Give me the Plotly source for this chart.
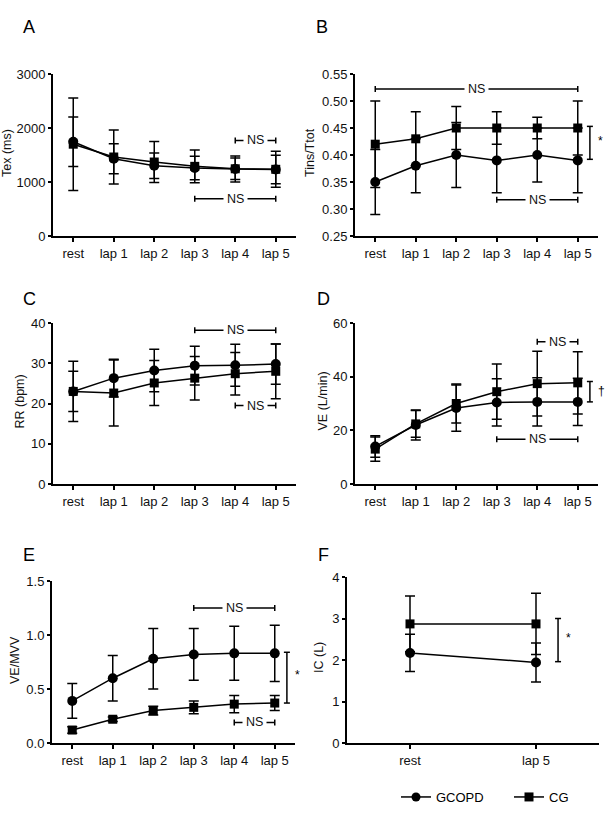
import plotly.graph_objects as go

W, H = 611, 818

# ---------------- data ----------------
categories = ["rest", "lap 1", "lap 2", "lap 3", "lap 4", "lap 5"]
f_categories = ["rest", "lap 5"]

# A: Tex (ms)
tex_gcopd = [1745, 1430, 1300, 1260, 1240, 1232]
tex_gcopd_sd = [460, 279, 236, 218, 240, 264]
tex_cg = [1700, 1463, 1370, 1290, 1245, 1235]
tex_cg_sd = [857, 500, 379, 304, 200, 334]

# B: Tins/Ttot
ti_gcopd = [0.35, 0.38, 0.40, 0.39, 0.40, 0.39]
ti_gcopd_sd = [0.06, 0.05, 0.06, 0.06, 0.05, 0.06]
ti_cg = [0.42, 0.43, 0.45, 0.45, 0.45, 0.45]
ti_cg_sd = [0.08, 0.05, 0.04, 0.03, 0.02, 0.05]

# C: RR (bpm)
rr_gcopd = [23.0, 26.3, 28.2, 29.4, 29.5, 29.8]
rr_gcopd_sd = [5.0, 4.7, 5.3, 4.8, 5.2, 5.0]
rr_cg = [23.0, 22.6, 25.1, 26.3, 27.4, 28.0]
rr_cg_sd = [7.5, 8.2, 5.6, 5.4, 5.3, 6.8]

# D: VE (L/min)
ve_gcopd = [14.0, 22.0, 28.3, 30.4, 30.6, 30.6]
ve_gcopd_sd = [4.0, 5.6, 8.6, 8.8, 9.0, 8.8]
ve_cg = [13.0, 22.4, 30.0, 34.4, 37.4, 37.7]
ve_cg_sd = [4.5, 5.0, 7.3, 10.3, 12.1, 11.6]

# E: VE/MVV
vemvv_gcopd = [0.39, 0.60, 0.78, 0.82, 0.83, 0.83]
vemvv_gcopd_sd = [0.16, 0.21, 0.28, 0.24, 0.25, 0.26]
vemvv_cg = [0.12, 0.22, 0.30, 0.33, 0.36, 0.37]
vemvv_cg_sd = [0.03, 0.02, 0.04, 0.06, 0.08, 0.07]

# F: IC (L)
ic_gcopd = [2.17, 1.94]
ic_gcopd_sd = [0.45, 0.47]
ic_cg = [2.87, 2.87]
ic_cg_sd = [0.67, 0.74]

# brackets: (panel, first category, last category, y, label)
ns_brackets = [
    ("A", "lap 4", "lap 5", 1769, "NS"),
    ("A", "lap 3", "lap 5", 691, "NS"),
    ("B", "rest", "lap 5", 0.522, "NS"),
    ("B", "lap 3", "lap 5", 0.317, "NS"),
    ("C", "lap 3", "lap 5", 38.2, "NS"),
    ("C", "lap 4", "lap 5", 19.5, "NS"),
    ("D", "lap 4", "lap 5", 53.0, "NS"),
    ("D", "lap 3", "lap 5", 16.7, "NS"),
    ("E", "lap 3", "lap 5", 1.25, "NS"),
    ("E", "lap 4", "lap 5", 0.19, "NS"),
]
# group-difference markers: (panel, y low, y high, label)
sig_brackets = [
    ("B", 0.392, 0.453, "*"),
    ("D", 30.6, 38.2, "†"),
    ("E", 0.37, 0.84, "*"),
    ("F", 1.96, 3.0, "*"),
]

# ---------------- layout helpers ----------------
FONT = "Liberation Sans, Arial, sans-serif"

def px_x(p):
    return p / W

def px_y(p):
    return 1 - p / H

panels = {
    "A": dict(x=(53, 296), y=(74, 236), yr=[0, 3000], tv=[0, 1000, 2000, 3000], fmt="d",
              title="Tex (ms)", tx=7, cats=categories),
    "B": dict(x=(355, 598), y=(74, 236), yr=[0.25, 0.55], tv=[0.25, 0.30, 0.35, 0.40, 0.45, 0.50, 0.55],
              fmt=".2f", title="Tins/Ttot", tx=310, cats=categories),
    "C": dict(x=(53, 296), y=(323, 484), yr=[0, 40], tv=[0, 10, 20, 30, 40], fmt="d",
              title="RR (bpm)", tx=19, cats=categories),
    "D": dict(x=(355, 598), y=(323, 484), yr=[0, 60], tv=[0, 20, 40, 60], fmt="d",
              title="VE (L/min)", tx=322, cats=categories),
    "E": dict(x=(52, 295), y=(581, 743), yr=[0, 1.5], tv=[0, 0.5, 1.0, 1.5], fmt=".1f",
              title="VE/MVV", tx=15, cats=categories),
    "F": dict(x=(347, 599), y=(577, 743), yr=[0, 4], tv=[0, 1, 2, 3, 4], fmt="d",
              title="IC (L)", tx=319, cats=f_categories),
}
letters_pos = {"A": (29, 27), "B": (322, 27), "C": (30, 299), "D": (323, 299),
               "E": (29, 555), "F": (323, 555)}

series = {
    "A": (tex_gcopd, tex_gcopd_sd, tex_cg, tex_cg_sd),
    "B": (ti_gcopd, ti_gcopd_sd, ti_cg, ti_cg_sd),
    "C": (rr_gcopd, rr_gcopd_sd, rr_cg, rr_cg_sd),
    "D": (ve_gcopd, ve_gcopd_sd, ve_cg, ve_cg_sd),
    "E": (vemvv_gcopd, vemvv_gcopd_sd, vemvv_cg, vemvv_cg_sd),
    "F": (ic_gcopd, ic_gcopd_sd, ic_cg, ic_cg_sd),
}

fig = go.Figure()
layout = dict(width=W, height=H, margin=dict(l=0, r=0, t=0, b=0, autoexpand=False),
              paper_bgcolor="white", plot_bgcolor="white",
              font=dict(family=FONT, size=13, color="black"))
annotations = []
shapes = []

axis_ids = {}
for i, (name, p) in enumerate(panels.items()):
    n = "" if i == 0 else str(i + 1)
    axis_ids[name] = ("x" + n, "y" + n)
    cats = p["cats"]
    xs = list(range(len(cats)))
    layout["xaxis" + n] = dict(
        domain=[px_x(p["x"][0]), px_x(p["x"][1])], anchor="y" + n,
        range=[-0.5, len(cats) - 0.5], tickvals=xs, ticktext=cats,
        showline=True, linewidth=2, linecolor="black", showgrid=False, zeroline=False,
        ticks="outside", ticklen=4, tickwidth=1.5, tickcolor="black", automargin=False,
        tickfont=dict(size=13, family=FONT, color="#111"), fixedrange=True)
    layout["yaxis" + n] = dict(
        domain=[px_y(p["y"][1]), px_y(p["y"][0])], anchor="x" + n,
        range=p["yr"], tickvals=p["tv"], tickformat=p["fmt"],
        showline=True, linewidth=2, linecolor="black", showgrid=False, zeroline=False,
        ticks="outside", ticklen=3, tickwidth=1.5, tickcolor="black", automargin=False,
        tickfont=dict(size=13, family=FONT, color="#111"), fixedrange=True)
    annotations.append(dict(x=px_x(p["tx"]), y=px_y((p["y"][0] + p["y"][1]) / 2 - 2),
                            xref="paper", yref="paper", text=p["title"], textangle=-90,
                            showarrow=False, xanchor="center", yanchor="middle",
                            font=dict(size=12.5, family=FONT, color="#111")))
    lx, ly = letters_pos[name]
    annotations.append(dict(x=px_x(lx), y=px_y(ly), xref="paper", yref="paper", text=name,
                            showarrow=False, xanchor="center", yanchor="middle",
                            font=dict(size=18, family=FONT, color="black")))

    g, gsd, c, csd = series[name]
    xa, ya = axis_ids[name]
    for vals, sds, sym, lab in [(c, csd, "square", "CG"), (g, gsd, "circle", "GCOPD")]:
        fig.add_trace(go.Scatter(
            x=xs, y=vals, xaxis=xa, yaxis=ya, mode="lines+markers", name=lab,
            showlegend=False,
            line=dict(color="black", width=1.5),
            marker=dict(symbol=sym, size=10 if sym == "circle" else 9, color="black"),
            error_y=dict(type="data", array=sds, visible=True, color="black",
                         thickness=1.5, width=5)))

# legend entries (no data drawn), each in its own small legend box
for sym, lab, leg in [("circle", "GCOPD", "legend"), ("square", "CG", "legend2")]:
    fig.add_trace(go.Scatter(x=[None], y=[None], mode="lines+markers", name=lab, legend=leg,
                             line=dict(color="black", width=1.5),
                             marker=dict(symbol=sym, size=9, color="black")))

leg_common = dict(orientation="h", y=px_y(797), xanchor="left", yanchor="middle",
                  font=dict(size=13, family=FONT, color="black"), bgcolor="rgba(0,0,0,0)",
                  borderwidth=0)
layout["legend"] = dict(x=px_x(396), **leg_common)
layout["legend2"] = dict(x=px_x(509), **leg_common)

# NS brackets
for name, c0, c1, yv, lab in ns_brackets:
    xa, ya = axis_ids[name]
    cats = panels[name]["cats"]
    x0, x1 = cats.index(c0), cats.index(c1)
    line = dict(color="black", width=1.5)
    shapes.append(dict(type="line", xref=xa, yref=ya, x0=x0, x1=x1, y0=yv, y1=yv, line=line))
    for xe in (x0, x1):
        shapes.append(dict(type="line", xref=xa, yref=ya, x0=xe, x1=xe, ysizemode="pixel",
                           yanchor=yv, y0=-3, y1=3, line=line))
    annotations.append(dict(x=(x0 + x1) / 2, y=yv, xref=xa, yref=ya, text=lab,
                            showarrow=False, bgcolor="white", borderpad=3,
                            xanchor="center", yanchor="middle",
                            font=dict(size=12.5, family=FONT, color="#111")))

# group-difference brackets
for name, y0, y1, lab in sig_brackets:
    xa, ya = axis_ids[name]
    n = len(panels[name]["cats"])
    xb = (n - 1) + (0.175 if name == "F" else 0.3)
    xt = xb + (0.045 if name == "F" else 0.14)
    line = dict(color="black", width=1.5)
    shapes.append(dict(type="line", xref=xa, yref=ya, x0=xb, x1=xb, y0=y0, y1=y1, line=line))
    for ye in (y0, y1):
        shapes.append(dict(type="line", xref=xa, yref=ya, y0=ye, y1=ye, xsizemode="pixel",
                           xanchor=xb, x0=-3, x1=3, line=line))
    annotations.append(dict(x=xt, y=(y0 + y1) / 2 + (y1 - y0) * 0.05, xref=xa, yref=ya,
                            text=lab, showarrow=False, xanchor="left", yanchor="middle",
                            font=dict(size=12, family=FONT, color="black")))

layout["annotations"] = annotations
layout["shapes"] = shapes
fig.update_layout(**layout)
fig.write_html("out.html")
